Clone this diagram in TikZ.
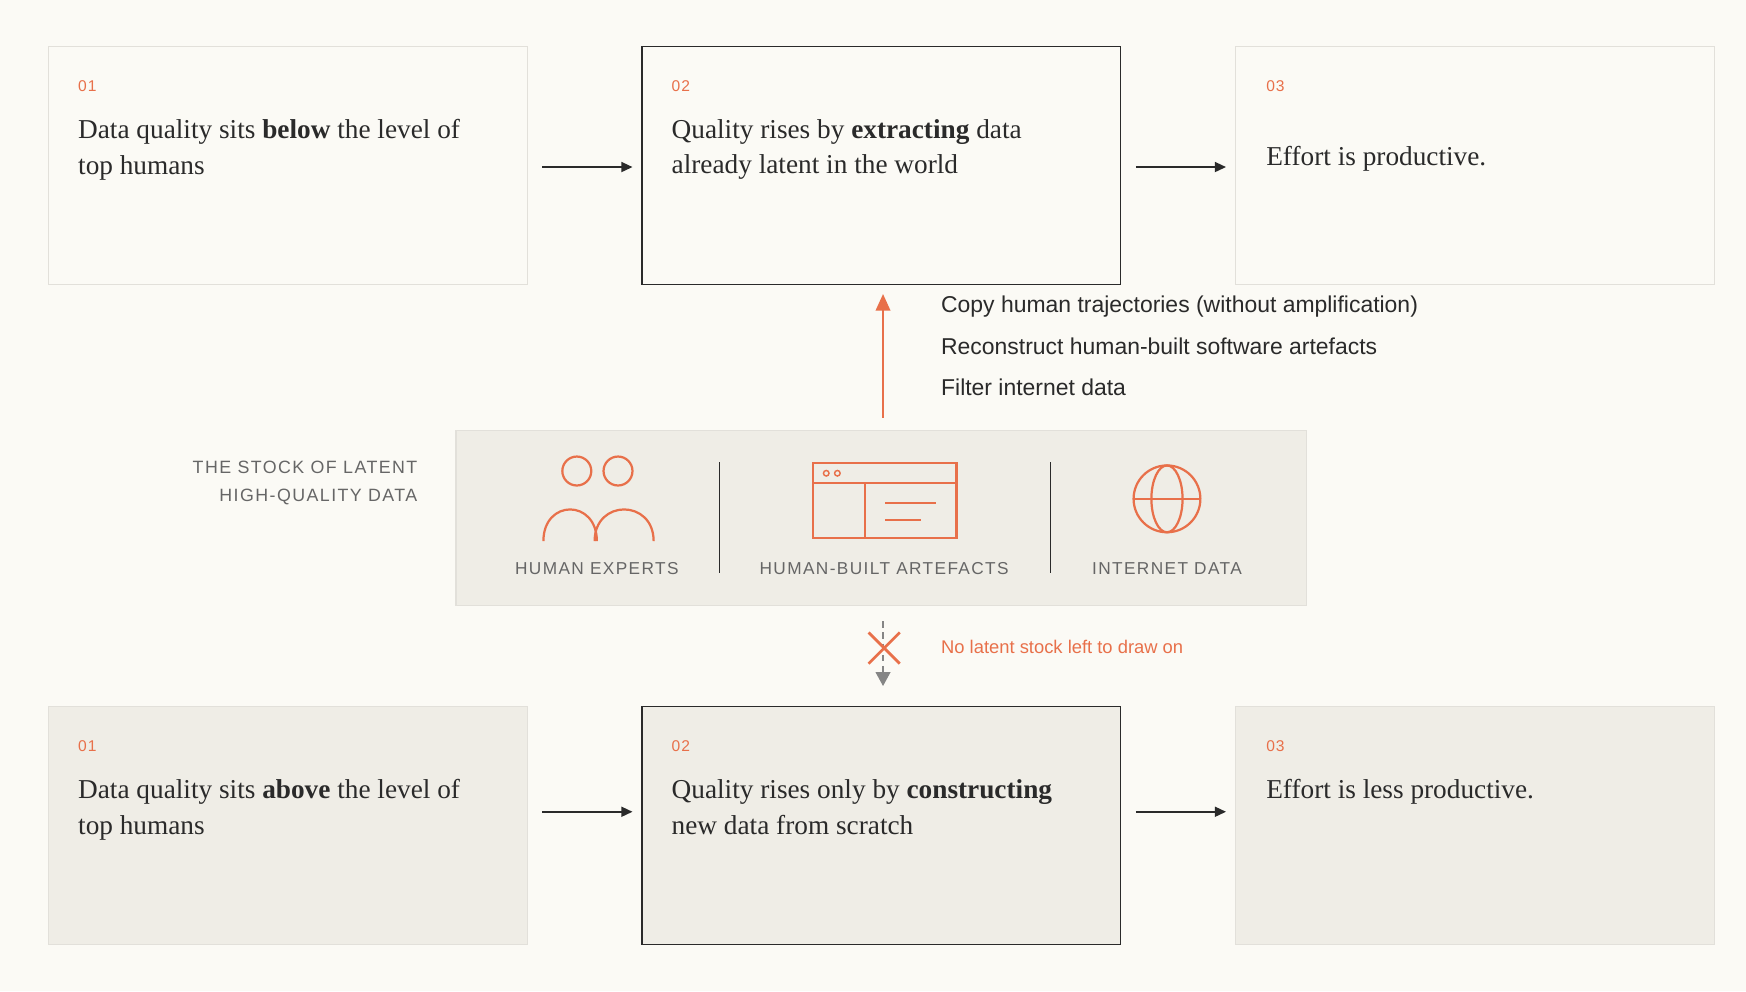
\documentclass[tikz,border=0pt]{standalone}
\usepackage{fontspec}
\setmainfont{Liberation Serif}
\setsansfont{Liberation Sans}
\usetikzlibrary{arrows.meta}
\definecolor{bg}{HTML}{FBFAF5}
\definecolor{panel}{HTML}{EFEDE6}
\definecolor{org}{HTML}{E8704A}
\definecolor{edge}{HTML}{E2E0DA}
\definecolor{ink}{HTML}{2A2A2A}
\definecolor{grey}{HTML}{666666}
\begin{document}
\begin{tikzpicture}[x=1pt,y=-1pt,
  lite/.style={draw=edge,line width=1pt},
  dark/.style={draw=ink,line width=1pt},
  num/.style={anchor=base west,inner sep=0,text=org,font=\sffamily\fontsize{14}{16}\selectfont\addfontfeature{LetterSpace=6}},
  body/.style={anchor=north west,inner sep=0,align=left,text=ink,font=\fontsize{24.5}{32}\selectfont},
  arr/.style={draw=ink,line width=1.5pt,-{Triangle[length=10pt,width=9pt]}},
  lab/.style={anchor=base,text=grey,font=\sffamily\fontsize{15.5}{18}\selectfont\addfontfeature{LetterSpace=8}},
  note/.style={anchor=base west,inner sep=0,text=ink,font=\sffamily\fontsize{20.6}{22}\selectfont},
  icon/.style={draw=org,line width=2pt}]
\fill[bg] (0,0) rectangle (1568,890);
\useasboundingbox (0,0) rectangle (1568,890);
% top row
\node[lite,fill=bg,minimum width=430,minimum height=214,anchor=north west] (t1) at (43,41) {};
\node[dark,fill=bg,minimum width=430,minimum height=214,anchor=north west] (t2) at (576,41) {};
\node[lite,fill=bg,minimum width=430,minimum height=214,anchor=north west] (t3) at (1109,41) {};
\node[num] (t1n) at (70,82) {01};
\node[num] (t2n) at (603,82) {02};
\node[num] (t3n) at (1137,82) {03};
\node[body] (t1b) at (70,107) {Data quality sits \textbf{below} the level of\\top humans};
\node[body] (t2b) at (603,107) {Quality rises by \textbf{extracting} data\\already latent in the world};
\node[body] (t3b) at (1137,131) {Effort is productive.};
\coordinate (a1s) at (487,150); \coordinate (a1e) at (568,150);
\coordinate (a2s) at (1020,150); \coordinate (a2e) at (1101,150);
\draw[arr] (a1s) -- (a1e);
\draw[arr] (a2s) -- (a2e);
% bottom row
\node[lite,fill=panel,minimum width=430,minimum height=214,anchor=north west] (b1) at (43,634) {};
\node[dark,fill=panel,minimum width=430,minimum height=214,anchor=north west] (b2) at (576,634) {};
\node[lite,fill=panel,minimum width=430,minimum height=214,anchor=north west] (b3) at (1109,634) {};
\node[num] (b1n) at (70,675) {01};
\node[num] (b2n) at (603,675) {02};
\node[num] (b3n) at (1137,675) {03};
\node[body] (b1b) at (70,700) {Data quality sits \textbf{above} the level of\\top humans};
\node[body] (b2b) at (603,700) {Quality rises only by \textbf{constructing}\\new data from scratch};
\node[body] (b3b) at (1137,700) {Effort is less productive.};
\coordinate (b1s) at (487,729); \coordinate (b1e) at (568,729);
\coordinate (b2s) at (1020,729); \coordinate (b2e) at (1101,729);
\draw[arr] (b1s) -- (b1e);
\draw[arr] (b2s) -- (b2e);
% middle panel
\node[lite,fill=panel,minimum width=764,minimum height=157,anchor=north west] (mid) at (409,386) {};
\node[anchor=base east,inner sep=0,text=grey,font=\sffamily\fontsize{16}{18}\selectfont\addfontfeature{LetterSpace=8}] (cap1) at (375,425) {THE STOCK OF LATENT};
\node[anchor=base east,inner sep=0,text=grey,font=\sffamily\fontsize{16}{18}\selectfont\addfontfeature{LetterSpace=8}] (cap2) at (375,450) {HIGH-QUALITY DATA};
\draw[ink,line width=1pt] (646,415) -- (646,515);
\draw[ink,line width=1pt] (943,415) -- (943,515);
\node[lab] (l1) at (536,516) {HUMAN EXPERTS};
\node[lab] (l2) at (794,516) {HUMAN-BUILT ARTEFACTS};
\node[lab] (l3) at (1048,516) {INTERNET DATA};
% people icon
\draw[icon] (518,423) circle (13);
\draw[icon] (555,423) circle (13);
\draw[icon] (488,486) .. controls (488,448) and (536,448) .. (536,486);
\draw[icon] (534,486) .. controls (534,448) and (587,448) .. (587,486);
% window icon
\draw[icon] (730,416) rectangle (859,483);
\draw[icon] (730,434) -- (859,434);
\draw[org,line width=1.3pt] (742,425) circle (2.5) (752,425) circle (2.5);
\draw[icon] (777,434) -- (777,483);
\draw[icon] (795,452) -- (841,452);
\draw[icon] (795,467) -- (827,467);
% globe icon
\draw[icon] (1048,448) circle (30);
\draw[icon] (1048,448) ellipse (14 and 30);
\draw[icon] (1018,448) -- (1078,448);
% orange up arrow
\coordinate (up0) at (793,375);
\coordinate (up1) at (793,264);
\draw[draw=org,line width=2pt,-{Triangle[length=15pt,width=13pt]}] (up0) -- (up1);
\node[note] (n1) at (845,281) {Copy human trajectories (without amplification)};
\node[note] (n2) at (845,318) {Reconstruct human-built software artefacts};
\node[note] (n3) at (845,355) {Filter internet data};
% blocked arrow
\coordinate (d0) at (793,558);
\coordinate (d1) at (793,604);
\draw[draw=grey!80,line width=1.5pt,dash pattern=on 6pt off 4pt] (d0) -- (d1);
\draw[draw=grey!80,fill=grey!80,line width=1pt] (787,604) -- (799,604) -- (793,615) -- cycle;
\draw[org,line width=2.5pt] (780,568) -- (808,596) (808,568) -- (780,596);
\node[anchor=base west,inner sep=0,text=org,font=\sffamily\fontsize{16.5}{19}\selectfont] (nx) at (845,587) {No latent stock left to draw on};
\end{tikzpicture}
\end{document}
